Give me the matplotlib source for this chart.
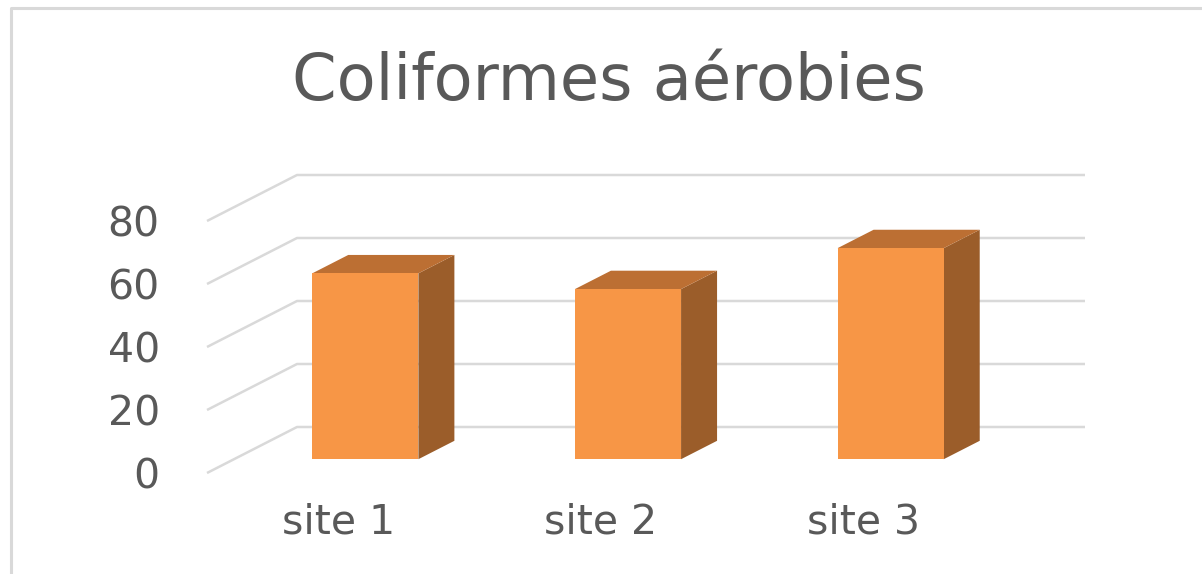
import matplotlib
matplotlib.use("Agg")
import matplotlib.pyplot as plt
from matplotlib.patches import Polygon, Rectangle
from matplotlib.lines import Line2D

# ---- data ----
categories = ["site 1", "site 2", "site 3"]
values = [59, 54, 67]
y_ticks = [0, 20, 40, 60, 80]
title = "Coliformes aérobies"

# ---- style ----
W, H = 1202, 574
TEXT = "#595959"
GRID = "#D9D9D9"
FRONT = "#F79646"
TOP = "#BC6F33"
SIDE = "#9B5D2A"

# pseudo-3D depth offset in data units
DX = 0.3426   # category units
DY = 14.6     # value units
D0, D1 = 0.3, 0.7   # bar depth span (fraction of total depth)
BW = 0.404          # bar width (fraction of category)

fig = plt.figure(figsize=(W / 100, H / 100), dpi=100)
fig.patch.set_facecolor("white")

# axes covering the front plane + back-wall offset
x0, x1 = 207, 1085
yb, yt = 473, 175
ax = fig.add_axes([x0 / W, (H - yb) / H, (x1 - x0) / W, (yb - yt) / H])
ax.set_xlim(0, len(categories) + DX)
ax.set_ylim(0, y_ticks[-1] + DY)
for s in ax.spines.values():
    s.set_visible(False)
ax.patch.set_alpha(0)

# gridlines: diagonal side wall + horizontal back wall
for v in y_ticks:
    ax.plot([0, DX, len(categories) + DX], [v, v + DY, v + DY],
            color=GRID, lw=1.8, solid_capstyle="butt", zorder=1, clip_on=False)

# bars
for i, v in enumerate(values):
    xl = i + 0.5 - BW / 2 + D0 * DX
    xr = xl + BW
    yb0 = D0 * DY
    ddx = (D1 - D0) * DX
    ddy = (D1 - D0) * DY
    # side face
    ax.add_patch(Polygon([(xr, yb0), (xr + ddx, yb0 + ddy), (xr + ddx, yb0 + v + ddy), (xr, yb0 + v)],
                         closed=True, facecolor=SIDE, edgecolor="none", zorder=3))
    # top face
    ax.add_patch(Polygon([(xl, yb0 + v), (xl + ddx, yb0 + v + ddy), (xr + ddx, yb0 + v + ddy), (xr, yb0 + v)],
                         closed=True, facecolor=TOP, edgecolor="none", zorder=3))
    # front face
    ax.add_patch(Rectangle((xl, yb0), BW, v, facecolor=FRONT, edgecolor="none", zorder=4))

# ticks
ax.set_yticks(y_ticks)
ax.set_yticklabels([str(t) for t in y_ticks])
ax.set_xticks([i + 0.5 for i in range(len(categories))])
ax.set_xticklabels(categories)
ax.tick_params(axis="y", length=0, pad=34, labelsize=29.5, labelcolor=TEXT)
ax.tick_params(axis="x", length=0, pad=21, labelsize=29.5, labelcolor=TEXT)
for lab in ax.get_yticklabels() + ax.get_xticklabels():
    lab.set_fontfamily("DejaVu Sans")

# title
fig.text(609 / W, 1 - 100 / H, title, ha="center", va="baseline",
         fontsize=46, color=TEXT, family="DejaVu Sans")

# chart border (left and top edges visible)
fig.add_artist(Line2D([11 / W, 11 / W, 1.0], [0.0, 1 - 7.5 / H, 1 - 7.5 / H],
                      transform=fig.transFigure, color=GRID, lw=2.2))

fig.savefig("out.png", dpi=100, facecolor="white")
